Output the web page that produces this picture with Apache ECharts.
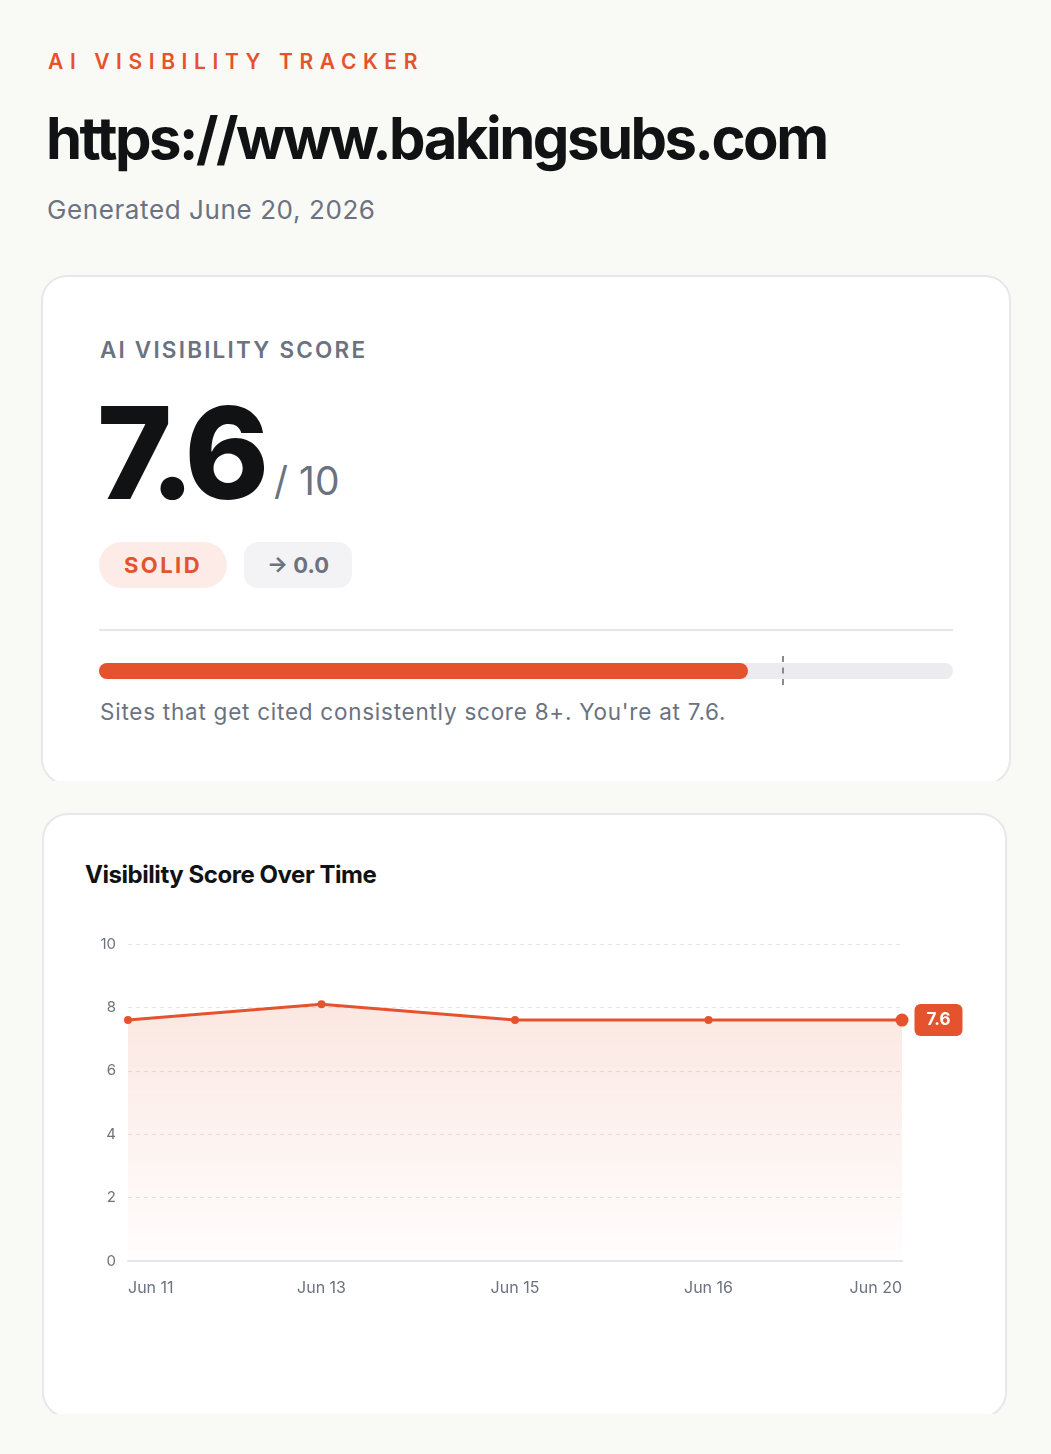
<!DOCTYPE html>
<html>
<head>
<meta charset="utf-8">
<script src="https://cdn.jsdelivr.net/npm/echarts@6/dist/echarts.min.js"></script>
<style>
  html, body { margin:0; padding:0; background:#f9f9f6; width:1051px; height:1454px; overflow:hidden; font-family: Inter, "Noto Sans", sans-serif; }
  .abs { position:absolute; }
  .kicker { left:48px; top:47px; font-size:21px; font-weight:600; letter-spacing:6.6px; color:#e4532d; line-height:30px; }
  .url { left:46px; top:100px; font-size:58px; font-weight:700; letter-spacing:-2.5px; color:#111214; line-height:76px; white-space:nowrap; }
  .gen { left:47px; top:193px; font-size:26px; color:#6b7280; line-height:34px; letter-spacing:0.6px; }
  .clip { overflow:hidden; }
  .card { position:absolute; left:0; top:0; right:0; background:#fff; border:2px solid #e7e7ec; border-radius:26px; box-sizing:border-box; }
  .lbl { left:100px; top:335px; font-size:22.5px; font-weight:600; letter-spacing:2.2px; color:#6b7280; line-height:30px; }
  .big { left:97px; top:378px; font-size:128px; font-weight:800; letter-spacing:-6.5px; color:#111214; line-height:150px; }
  .of { left:274px; top:456px; font-size:39px; color:#6b7280; line-height:50px; }
  .badge1 { left:99px; top:542px; width:128px; height:46px; border-radius:23px; background:#fdebe7; color:#e4532d; font-size:22px; font-weight:700; letter-spacing:2.4px; text-align:center; line-height:46px; }
  .badge2 { left:244px; top:542px; width:108px; height:46px; border-radius:14px; background:#f3f3f5; color:#6b7280; font-size:22px; font-weight:700; text-align:center; line-height:46px; }
  .rule { left:99px; top:629px; width:854px; height:2px; background:#e5e5ea; }
  .track { left:99px; top:663px; width:854px; height:16px; border-radius:8px; background:#ececf0; }
  .fill { left:99px; top:663px; height:16px; border-radius:8px; background:#e4532d; }
  .mark { top:656px; height:29px; width:0; border-left:2px dashed #8a8a8e; }
  .cap { left:100px; top:697px; font-size:22.5px; color:#6b7280; line-height:30px; letter-spacing:0.75px; }
  .ctitle { left:85px; top:859px; font-size:24px; font-weight:700; letter-spacing:-0.45px; color:#111214; line-height:32px; }
</style>
</head>
<body>
<div class="abs kicker">AI VISIBILITY TRACKER</div>
<div class="abs url">https://www.bakingsubs.com</div>
<div class="abs gen">Generated June 20, 2026</div>

<div class="abs clip" style="left:41px; top:275px; width:970px; height:506px;"><div class="card" style="height:510px;"></div></div>
<div class="abs lbl">AI VISIBILITY SCORE</div>
<div class="abs big" id="big"></div>
<div class="abs of" id="of"></div>
<div class="abs badge1">SOLID</div>
<div class="abs badge2">→ 0.0</div>
<div class="abs rule"></div>
<div class="abs track"></div>
<div class="abs fill" id="fill"></div>
<div class="abs mark" id="mark"></div>
<div class="abs cap" id="cap"></div>

<div class="abs clip" style="left:42px; top:813px; width:965px; height:601px;"><div class="card" style="height:605px;"></div></div>
<div class="abs ctitle">Visibility Score Over Time</div>
<div class="abs" id="chart" style="left:43px; top:900px; width:963px; height:430px;"></div>

<script>
// ---- data ----
const score = 7.6;
const maxScore = 10;
const target = 8;
const dates = ["Jun 11", "Jun 13", "Jun 15", "Jun 16", "Jun 20"];
const scores = [7.6, 8.1, 7.6, 7.6, 7.6];
const yTicks = [0, 2, 4, 6, 8, 10];

// ---- header numbers ----
document.getElementById('big').textContent = score.toFixed(1);
document.getElementById('of').textContent = '/ ' + maxScore;
document.getElementById('cap').textContent = "Sites that get cited consistently score " + target + "+. You're at " + score.toFixed(1) + ".";
const trackW = 854;
document.getElementById('fill').style.width = (trackW * score / maxScore) + 'px';
document.getElementById('mark').style.left = (99 + trackW * target / maxScore) + 'px';

// ---- chart ----
const ORANGE = '#e4532d';
const chart = echarts.init(document.getElementById('chart'), null, { renderer: 'canvas' });
const last = scores.length - 1;
chart.setOption({
  animation: false,
  grid: { left: 85, right: 104, top: 44, bottom: 69, containLabel: false },
  xAxis: {
    type: 'category',
    data: dates,
    boundaryGap: false,
    axisLine: { show: true, lineStyle: { color: '#e5e5ec', width: 2 } },
    axisTick: { show: false },
    axisLabel: { color: '#6b7280', fontSize: 16, margin: 19, fontFamily: 'Inter', alignMinLabel: 'left', alignMaxLabel: 'right', interval: 0 },
    splitLine: { show: false }
  },
  yAxis: {
    type: 'value',
    min: yTicks[0],
    max: yTicks[yTicks.length - 1],
    interval: yTicks[1] - yTicks[0],
    axisLine: { show: false },
    axisTick: { show: false },
    axisLabel: { color: '#6b7280', fontSize: 15, margin: 12, fontFamily: 'Inter' },
    splitLine: { show: true, lineStyle: { color: '#e5e5ea', type: [4, 4], width: 1 } }
  },
  series: [{
    type: 'line',
    data: scores.map((v, i) => i === last ? {
      value: v,
      symbolSize: 13,
      label: {
        show: true, position: 'right', distance: 6,
        formatter: (p) => p.value.toFixed(1),
        backgroundColor: ORANGE, color: '#fff', fontSize: 17, fontWeight: 700, fontFamily: 'Inter',
        padding: [8, 12, 7, 12], borderRadius: 6
      }
    } : v),
    symbol: 'circle',
    symbolSize: 8,
    showSymbol: true,
    itemStyle: { color: ORANGE },
    lineStyle: { color: ORANGE, width: 3 },
    areaStyle: {
      color: new echarts.graphic.LinearGradient(0, 0, 0, 1, [
        { offset: 0, color: 'rgba(228,83,45,0.2)' },
        { offset: 1, color: 'rgba(228,83,45,0.01)' }
      ])
    },
    z: 3
  }]
});
</script>
</body>
</html>
